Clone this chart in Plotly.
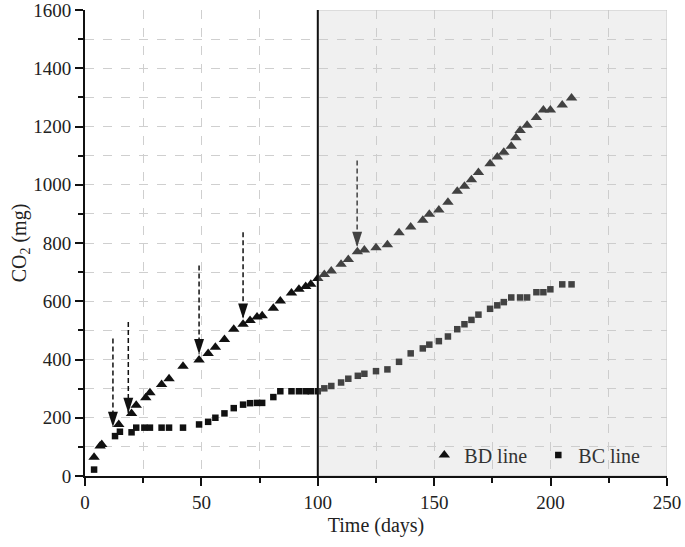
"""
CO2 release over time for the BD and BC lines.
"""
import plotly.graph_objects as go

BLACK = "#111111"
GRID = "#cfcfcf"
FONT = "Liberation Serif, Times New Roman, serif"

# BD line (triangles)
bd_days = [3.9, 6.5, 7.2, 14.5, 20.0, 22.0, 26.1, 27.9, 32.9, 36.1,
           42.1, 49.0, 52.9, 56.0, 59.9, 63.9, 67.9, 70.9, 73.9, 76.1,
           80.9, 83.9, 88.7, 91.9, 94.8, 97.0, 100.0, 102.8, 105.8, 110.0,
           113.1, 117.0, 120.0, 125.0, 129.9, 134.9, 139.9, 145.1, 147.9, 152.0,
           155.9, 159.9, 163.0, 166.0, 169.0, 174.0, 177.1, 179.9, 183.1, 185.1,
           186.9, 189.9, 193.9, 196.9, 199.9, 205.0, 209.0]
bd_co2 = [64, 103, 108, 177, 215, 243, 269, 286, 314, 334,
          377, 398, 421, 442, 469, 504, 521, 534, 546, 550,
          576, 601, 628, 641, 651, 658, 678, 692, 704, 727,
          743, 770, 776, 784, 794, 835, 855, 878, 899, 913,
          940, 978, 995, 1017, 1042, 1072, 1095, 1112, 1132, 1161,
          1186, 1204, 1231, 1257, 1257, 1274, 1298]

# BC line (squares)
bc_days = [3.9, 12.9, 15.0, 20.0, 22.0, 25.5, 27.9, 32.9, 36.1, 42.1,
           49.0, 52.9, 56.0, 59.9, 63.9, 67.9, 70.9, 73.9, 76.1, 80.9,
           83.9, 88.7, 91.9, 94.8, 97.0, 100.0, 102.8, 105.8, 110.0, 113.1,
           117.2, 120.0, 125.0, 129.9, 134.9, 139.9, 145.1, 147.9, 152.0, 155.9,
           159.9, 163.0, 166.0, 169.0, 174.0, 177.1, 179.9, 183.1, 186.9, 189.9,
           193.9, 196.9, 199.9, 205.0, 209.0]
bc_co2 = [22, 137, 152, 150, 166, 166, 166, 166, 166, 166,
          177, 186, 200, 215, 233, 245, 250, 251, 251, 271,
          291, 291, 291, 291, 291, 291, 301, 309, 321, 334,
          344, 351, 360, 366, 392, 421, 438, 451, 463, 479,
          504, 521, 536, 554, 574, 586, 597, 613, 613, 613,
          631, 631, 641, 658, 658]

# Dashed arrows marking events: day, top of shaft, tip
arrow_days = [12.0, 18.6, 49.0, 67.9, 116.9]
arrow_tops = [472, 529, 723, 837, 1083]
arrow_tips = [168, 216, 418, 540, 786]

# Shaded second phase
phase_start = 100
phase_end = 250

x_ticks = [0, 50, 100, 150, 200, 250]
y_ticks = [0, 200, 400, 600, 800, 1000, 1200, 1400, 1600]

fig = go.Figure()

fig.add_trace(go.Scatter(
    x=bd_days, y=bd_co2, mode="markers", name="BD line",
    marker=dict(symbol="triangle-up", size=10, color=BLACK),
))
fig.add_trace(go.Scatter(
    x=bc_days, y=bc_co2, mode="markers", name="BC line",
    marker=dict(symbol="square", size=6.5, color=BLACK),
))

# Arrow shafts and heads
for day, top, tip in zip(arrow_days, arrow_tops, arrow_tips):
    fig.add_trace(go.Scatter(
        x=[day, day], y=[top, tip], mode="lines", showlegend=False,
        line=dict(color=BLACK, width=1.5, dash="5px,3px"),
        hoverinfo="skip",
    ))
fig.add_trace(go.Scatter(
    x=arrow_days, y=arrow_tips, mode="markers", showlegend=False,
    marker=dict(symbol="arrow", angle=180, size=16, color=BLACK),
    hoverinfo="skip",
))

# Semi-transparent shading over the second phase
fig.add_shape(
    type="rect", xref="x", yref="y",
    x0=phase_start, x1=phase_end, y0=0, y1=1600,
    fillcolor="rgba(200,200,200,0.27)",
    line=dict(color="#c8c8c8", width=1),
    layer="above",
)
fig.add_shape(
    type="line", xref="x", yref="y",
    x0=phase_start, x1=phase_start, y0=0, y1=1600,
    line=dict(color=BLACK, width=2),
    layer="above",
)

axis_common = dict(
    showline=True, linecolor=BLACK, linewidth=2,
    ticks="outside", ticklen=8, tickwidth=2, tickcolor=BLACK,
    showgrid=True, gridcolor=GRID, griddash="dash", gridwidth=1,
    zeroline=False, automargin=False, ticklabeloverflow="allow",
    tickfont=dict(size=19, family=FONT, color="#222"),
    title_font=dict(size=20, family=FONT, color="#222"),
)

fig.update_xaxes(
    range=[0, 250], tickvals=x_ticks, title_text="Time (days)",
    minor=dict(dtick=25, ticks="outside", ticklen=5, tickwidth=2,
               tickcolor=BLACK, showgrid=True, gridcolor=GRID,
               griddash="dash"),
    title_standoff=6,
    **axis_common,
)
fig.update_yaxes(
    range=[0, 1600], tickvals=y_ticks, title_text="CO<sub>2</sub> (mg)",
    minor=dict(dtick=100, ticks="outside", ticklen=5, tickwidth=2,
               tickcolor=BLACK, showgrid=True, gridcolor=GRID,
               griddash="dash"),
    title_standoff=1,
    **axis_common,
)

fig.update_layout(
    width=685, height=547, autosize=False,
    margin=dict(l=85, r=18, t=10, b=71),
    plot_bgcolor="white", paper_bgcolor="white",
    font=dict(family=FONT, color="#222"),
    legend=dict(
        orientation="h", x=0.583, y=0.045, xanchor="left", yanchor="middle",
        bgcolor="rgba(0,0,0,0)", font=dict(size=20, family=FONT, color="#333"),
        itemwidth=30, entrywidth=69,
    ),
)

# drop the default 8px page margin so the figure fills the window
fig.write_html(
    "out.html",
    config={"responsive": False, "displayModeBar": False},
    post_script="document.body.style.margin = '0';",
)
